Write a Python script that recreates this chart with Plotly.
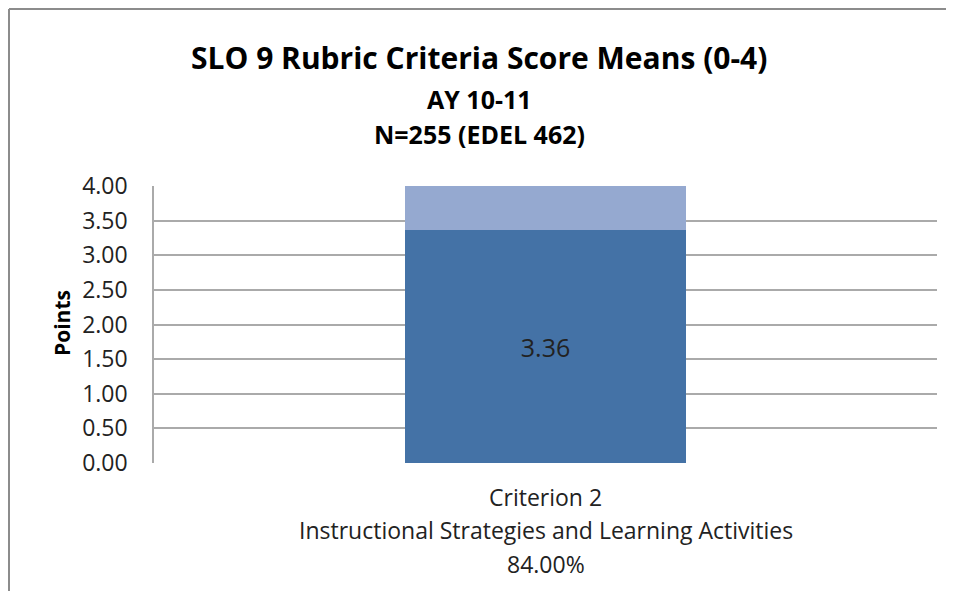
import plotly.graph_objects as go

categories = ["Criterion 2"]
category_lines = ["Criterion 2", "Instructional Strategies and Learning Activities", "84.00%"]
mean_scores = [3.36]
remainder = [0.64]
tick_vals = [0, 0.5, 1, 1.5, 2, 2.5, 3, 3.5, 4]
tick_text = ["0.00", "0.50", "1.00", "1.50", "2.00", "2.50", "3.00", "3.50", "4.00"]
title_lines = ["SLO 9 Rubric Criteria Score Means (0-4)", "AY 10-11", "N=255 (EDEL 462)"]

# page body has an 8px margin; work in window pixel coords and shift
OFF = 8
W, H = 954 - OFF, 591 - OFF
PL, PR, PT, PB = 154, 937, 186, 463  # plot area in window pixels
L, R, T, B = PL - OFF, (954 - PR), PT - OFF, (591 - PB)
pw, ph = W - L - R, H - T - B

def px(x):
    return (x - PL) / pw

def py(y):
    return (PB - y) / ph

FONT = "Open Sans"

fig = go.Figure()
fig.add_trace(go.Bar(
    x=categories, y=mean_scores, width=0.36,
    marker=dict(color="#4472A6", line=dict(width=0)),
    text=[f"{v:.2f}" for v in mean_scores], textposition="inside",
    insidetextanchor="middle",
    textfont=dict(family=FONT, size=25, color="#222222"),
    hoverinfo="skip",
))
fig.add_trace(go.Bar(
    x=categories, y=remainder, width=0.36,
    marker=dict(color="#95A9D0", line=dict(width=0)),
    hoverinfo="skip",
))

annotations = []
for txt, y, size in zip(title_lines, [57, 99, 134], [30, 25, 25]):
    annotations.append(dict(text=f"<b>{txt}</b>", x=px(479), y=py(y), xref="paper", yref="paper",
                            showarrow=False, xanchor="center", yanchor="middle",
                            font=dict(family=FONT, size=size, color="#000000")))
for txt, y in zip(category_lines, [497, 530, 564]):
    annotations.append(dict(text=txt, x=categories[0], y=py(y), xref="x", yref="paper",
                            showarrow=False, xanchor="center", yanchor="middle",
                            font=dict(family=FONT, size=23, color="#222222")))
annotations.append(dict(text="<b>Points</b>", x=px(62), y=py(323), xref="paper", yref="paper",
                        showarrow=False, textangle=-90, xanchor="center", yanchor="middle",
                        font=dict(family=FONT, size=21, color="#000000")))

border = dict(color="#8c8c8c", width=2)
fig.update_layout(
    width=W, height=H,
    margin=dict(l=L, r=R, t=T, b=B),
    barmode="stack",
    showlegend=False,
    plot_bgcolor="white", paper_bgcolor="white",
    annotations=annotations,
    shapes=[
        dict(type="line", xref="paper", yref="paper",
             x0=px(9), x1=px(1000), y0=py(9), y1=py(9), line=border, layer="above"),
        dict(type="line", xref="paper", yref="paper",
             x0=px(9), x1=px(9), y0=py(9), y1=py(650), line=border, layer="above"),
    ],
    xaxis=dict(showticklabels=False, showgrid=False, zeroline=False, ticks="",
               showline=False, fixedrange=True),
    yaxis=dict(range=[0, 4], tickvals=tick_vals, ticktext=tick_text,
               showgrid=True, gridcolor="#aaaaaa", gridwidth=1.5,
               zeroline=False, showline=True, linecolor="#aaaaaa", linewidth=1.5,
               ticks="", ticklen=0, ticklabelstandoff=20,
               tickfont=dict(family=FONT, size=23, color="#222222"),
               fixedrange=True),
)

fig.write_html("out.html")
